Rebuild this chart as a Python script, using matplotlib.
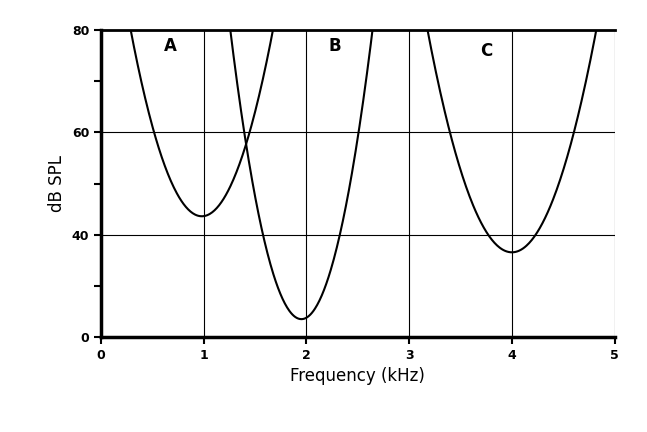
import numpy as np
import matplotlib.pyplot as plt

# points (x in kHz, y in plot units where bottom = 20, labelled "0")
ax_A = [0.28, 0.5, 0.75, 1.0, 1.25, 1.5, 1.66]
ay_A = [80, 62.5, 48.3, 43.7, 48.3, 62.5, 80]
ax_B = [1.25, 1.5, 1.75, 1.97, 2.2, 2.45, 2.63]
ay_B = [80, 49.5, 29.2, 23.5, 29.7, 50.5, 80]
ax_C = [3.17, 3.5, 3.75, 4.02, 4.3, 4.55, 4.81]
ay_C = [80, 54, 41.2, 36.5, 41.6, 54.8, 80]
curve_labels = ["A", "B", "C"]
label_pos = [(0.68, 77), (2.28, 77), (3.75, 76)]
yticks = [20, 40, 60, 80]
yticklabels = ["0", "40", "60", "80"]
xticks = [0, 1, 2, 3, 4, 5]

fig = plt.figure(figsize=(6.47, 4.32), dpi=100)
ax = fig.add_axes([0.156, 0.22, 0.794, 0.71])
for xs, ys in [(ax_A, ay_A), (ax_B, ay_B), (ax_C, ay_C)]:
    c = np.polyfit(xs, ys, 2)
    xx = np.linspace(min(xs) - 0.04, max(xs) + 0.04, 200)
    ax.plot(xx, np.polyval(c, xx), color="black", lw=1.5)
for x in [1, 2, 3, 4, 5]:
    ax.axvline(x, color="black", lw=0.8)
for y in [40, 60]:
    ax.axhline(y, color="black", lw=0.8)
for lab, (x, y) in zip(curve_labels, label_pos):
    ax.text(x, y, lab, fontsize=12, fontweight="bold", ha="center", va="center")
ax.set_xlim(0, 5)
ax.set_ylim(20, 80)
ax.set_xticks(xticks)
ax.set_yticks(yticks)
ax.set_yticklabels(yticklabels)
ax.set_yticks([30, 50, 70], minor=True)
ax.tick_params(axis="both", labelsize=9, width=1.5, length=5)
ax.tick_params(axis="y", which="minor", width=1.5, length=5)
for lab in ax.get_xticklabels() + ax.get_yticklabels():
    lab.set_fontweight("bold")
ax.spines["left"].set_linewidth(2.5)
ax.spines["bottom"].set_linewidth(2.5)
ax.spines["top"].set_linewidth(2)
ax.spines["right"].set_visible(False)
ax.set_xlabel("Frequency (kHz)", fontsize=12)
ax.set_ylabel("dB SPL", fontsize=12)
fig.savefig("out.png", dpi=100)
